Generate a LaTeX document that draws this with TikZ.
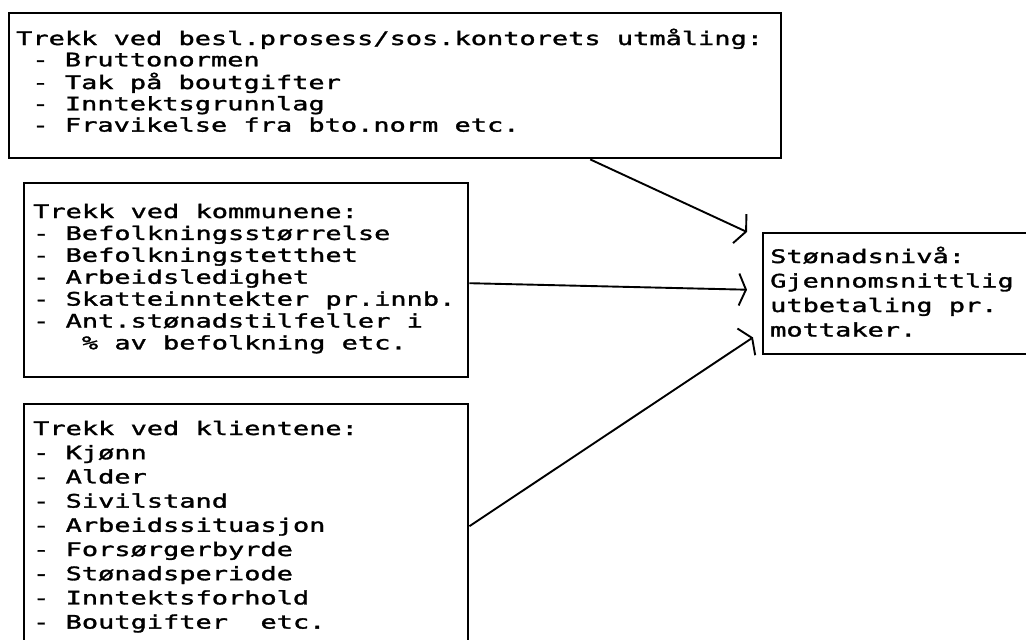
\documentclass[tikz,border=0pt]{standalone}
\usepackage{fontspec}
\usetikzlibrary{arrows.meta}
\newfontfamily\dm[FakeStretch=1.45,FakeBold=1.6]{DejaVu Sans Mono}
\newcommand{\bk}{\hphantom{x}}
\newcommand{\lns}[2]{\fontsize{18.6pt}{#1pt}\selectfont\begin{tabular}[t]{@{}l@{}}#2\end{tabular}}
\begin{document}
\begin{tikzpicture}[x=1pt,y=-1pt]
\tikzset{
  frame/.style={draw, line width=2.4pt, inner sep=0pt, anchor=north west},
  txt/.style={inner sep=0pt, anchor=base west, font=\dm},
  arr/.style={line width=1.9pt, -{Straight Barb[length=7pt, width=32pt, line width=1.9pt]}},
}
\useasboundingbox[fill=white] (0,0) rectangle (1026,640);
% boxes
\node[frame, minimum width=772pt, minimum height=145pt] (b1) at (8,12) {};
\node[frame, minimum width=444pt, minimum height=194pt] (b2) at (23,182) {};
\node[frame, minimum width=444pt, minimum height=244pt] (b3) at (23,403) {};
\node[frame, minimum width=290pt, minimum height=121pt] (tg) at (762,232) {};
% texts
\node[txt] (t1) at (16,45) {\lns{21.3}{Trekk ved besl.prosess/sos.kontorets utmåling:\\
\bk- Bruttonormen\\
\bk- Tak på boutgifter\\
\bk- Inntektsgrunnlag\\
\bk- Fravikelse fra bto.norm etc.}};
\node[txt] (t2) at (33,218) {\lns{21.9}{Trekk ved kommunene:\\
- Befolkningsstørrelse\\
- Befolkningstetthet\\
- Arbeidsledighet\\
- Skatteinntekter pr.innb.\\
- Ant.stønadstilfeller i\\
\bk\bk\bk\% av befolkning etc.}};
\node[txt] (t3) at (33,435) {\lns{24.2}{Trekk ved klientene:\\
- Kjønn\\
- Alder\\
- Sivilstand\\
- Arbeidssituasjon\\
- Forsørgerbyrde\\
- Stønadsperiode\\
- Inntektsforhold\\
- Boutgifter\bk\bk etc.}};
\node[txt] (t4) at (770,263) {\lns{24.5}{Stønadsnivå:\\
Gjennomsnittlig\\
utbetaling pr.\\
mottaker.}};
% connectors
\draw[arr] ([xshift=195pt]b1.south) -- ([xshift=-15pt]tg.north west);
\draw[arr] ([yshift=-3pt]b2.east) -- ([xshift=-15pt,yshift=4pt]tg.west);
\draw[arr] (b3.east) -- ([xshift=-9pt,yshift=18pt]tg.south west);
\end{tikzpicture}
\end{document}
